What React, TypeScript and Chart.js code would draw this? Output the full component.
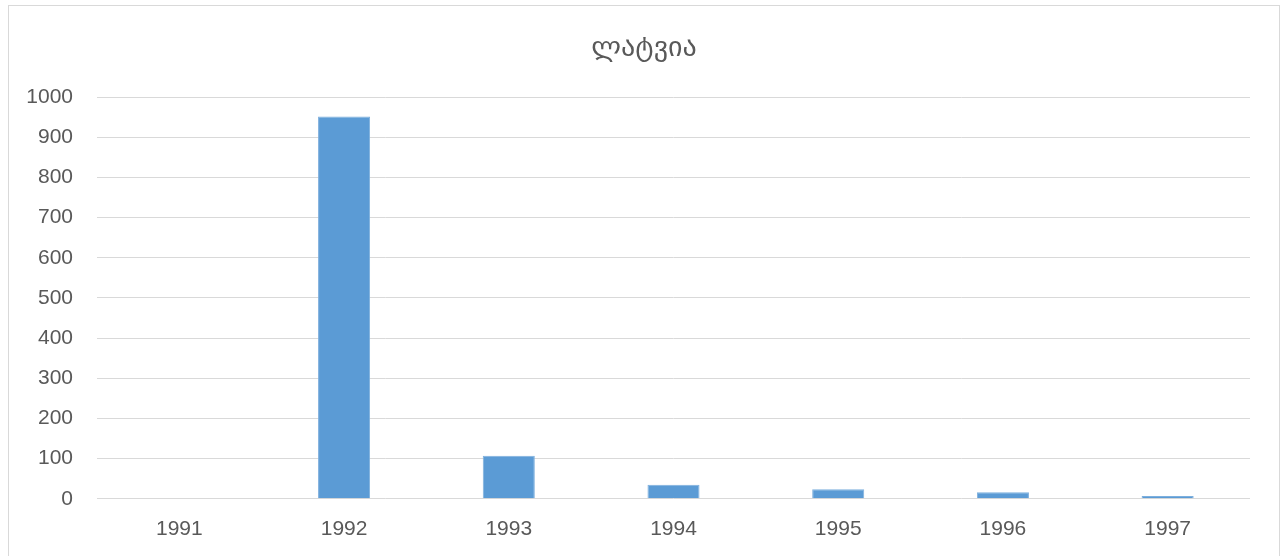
import React, { useEffect, useRef } from "react";
import { Chart, registerables } from "chart.js";

Chart.register(...registerables);

const categories = ["1991", "1992", "1993", "1994", "1995", "1996", "1997"];
const values = [0, 952, 107, 35, 24, 16, 7];
const titleText = "ლატვია";

export default function App() {
  const ref = useRef<HTMLCanvasElement | null>(null);
  useEffect(() => {
    if (!ref.current) return;
    const chart = new Chart(ref.current, {
      type: "bar",
      data: {
        labels: categories,
        datasets: [
          {
            data: values,
            backgroundColor: "#5B9BD5",
            borderColor: "#7DAFDD",
            borderWidth: 1,
            categoryPercentage: 1,
            barPercentage: 0.316,
          },
        ],
      },
      options: {
        animation: false,
        responsive: false,
        maintainAspectRatio: false,
        layout: { padding: 0 },
        plugins: {
          legend: { display: false },
          tooltip: { enabled: false },
          title: {
            display: true,
            text: titleText,
            color: "#595959",
            font: { family: "DejaVu Sans", size: 28, weight: "normal", lineHeight: 1.2 },
            padding: { top: 25.5, bottom: 32 },
          },
        },
        scales: {
          x: {
            grid: { display: false, drawTicks: false },
            border: { display: false },
            ticks: {
              color: "#595959",
              font: { family: "Liberation Sans", size: 21 },
              padding: 18,
              maxRotation: 0,
            },
          },
          y: {
            min: 0,
            max: 1000,
            afterFit: (s: any) => {
              s.width = 88;
            },
            grid: { color: "#d9d9d9", lineWidth: 1, drawTicks: false },
            border: { display: false },
            ticks: {
              stepSize: 100,
              color: "#595959",
              font: { family: "Liberation Sans", size: 21 },
              padding: 24,
              callback: (v: any) => String(v),
            },
          },
          yRight: {
            position: "right",
            min: 0,
            max: 1000,
            afterFit: (s: any) => {
              s.width = 29;
            },
            grid: { display: false, drawTicks: false },
            border: { display: false },
            ticks: { display: false },
          },
        },
      },
    });
    return () => chart.destroy();
  }, []);
  return (
    <div
      style={{
        position: "absolute",
        left: 8,
        top: 5,
        width: 1272,
        height: 560,
        border: "1px solid #d9d9d9",
        boxSizing: "border-box",
        background: "#fff",
      }}
    >
      <canvas ref={ref} width={1270} height={554} style={{ display: "block" }} />
    </div>
  );
}
